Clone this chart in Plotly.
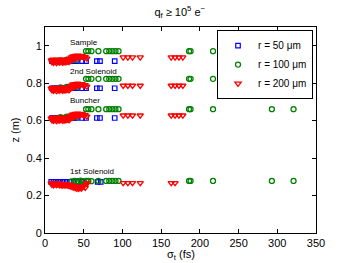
import plotly.graph_objects as go

# ---------------- data ----------------
# r = 50 um (blue squares)
sigma_r50 = [9, 12, 15, 18, 21, 25, 29, 33, 37, 41, 48, 53, 67, 71, 90,
             9, 12, 15, 18, 21, 25, 29, 33, 37, 41, 48, 53, 67, 71, 90,
             9, 12, 15, 18, 21, 25, 29, 33, 37, 41, 48, 53, 67, 71, 90,
             8, 11, 14, 17, 20, 24, 28, 32, 37, 42, 48, 68, 72]
z_r50 = [0.918] * 15 + [0.773] * 15 + [0.614] * 15 + [0.273] * 13

# r = 100 um (green circles)
sigma_r100 = [20, 24, 28, 32, 36, 40, 53, 56, 60, 69, 79, 83, 87, 91, 95, 186, 188, 217, 293, 321,
              20, 24, 28, 32, 36, 40, 53, 56, 60, 69, 79, 83, 87, 91, 95, 186, 188, 217, 293, 321,
              20, 24, 28, 32, 36, 40, 53, 56, 60, 69, 79, 83, 87, 91, 95, 186, 188, 217, 293, 321,
              34, 38, 42, 46, 50, 53, 56, 60, 69, 79, 83, 87, 91, 95, 186, 188, 217, 293, 321]
z_r100 = ([0.922, 0.918, 0.925, 0.920, 0.928, 0.924] + [0.971] * 14 +
          [0.777, 0.773, 0.780, 0.775, 0.783, 0.779] + [0.823] * 14 +
          [0.618, 0.614, 0.621, 0.616, 0.624, 0.620] + [0.661] * 14 +
          [0.276, 0.278, 0.277, 0.279, 0.277, 0.278, 0.278, 0.277] + [0.278] * 11)

# r = 200 um (red triangles)
sigma_r200 = [8, 9, 10, 11, 12, 13, 14, 15, 16, 17, 18, 19, 20, 21, 22, 23, 24, 25, 26, 27, 28, 29, 30,
              31, 32, 33, 34, 35, 36, 37, 38, 39, 40, 41, 42, 43, 44, 46, 48, 50, 52, 54,
              101, 107, 113, 123, 163, 168, 173, 178,
              8, 9, 10, 11, 12, 13, 14, 15, 16, 17, 18, 19, 20, 21, 22, 23, 24, 25, 26, 27, 28, 29, 30,
              31, 32, 33, 34, 35, 36, 37, 38, 39, 40, 41, 42, 43, 44, 46, 48, 50, 52, 54,
              101, 107, 113, 123, 163, 168, 173, 178,
              8, 9, 10, 11, 12, 13, 14, 15, 16, 17, 18, 19, 20, 21, 22, 23, 24, 25, 26, 27, 28, 29, 30,
              31, 32, 33, 34, 35, 36, 37, 38, 39, 40, 41, 42, 43, 44, 46, 48, 50, 52, 54,
              101, 107, 113, 123, 163, 168, 173, 178,
              8, 9, 10, 11, 12, 13, 14, 15, 16, 17, 18, 19, 20, 21, 22, 23, 24, 25, 26, 27, 28, 29, 30,
              31, 32, 33, 34, 35, 36, 37, 38, 39, 40, 41, 42, 43, 44, 45, 46, 47, 48, 50, 52, 53, 55,
              101, 107, 113, 123, 163, 168, 173, 178]
z_r200 = ([0.922, 0.912, 0.926, 0.910, 0.920, 0.914, 0.925, 0.908, 0.921, 0.913, 0.926, 0.911,
           0.920, 0.915, 0.925, 0.910, 0.921, 0.913, 0.926, 0.912, 0.920, 0.916, 0.924,
           0.913, 0.930, 0.920, 0.938, 0.926, 0.944, 0.930, 0.940, 0.946, 0.934, 0.942, 0.948,
           0.936, 0.944, 0.940, 0.946, 0.936, 0.940, 0.932] + [0.938] * 8 +
          [0.772, 0.762, 0.776, 0.760, 0.770, 0.764, 0.775, 0.758, 0.771, 0.763, 0.776, 0.761,
           0.770, 0.765, 0.775, 0.760, 0.771, 0.763, 0.776, 0.762, 0.770, 0.766, 0.774,
           0.763, 0.780, 0.770, 0.788, 0.776, 0.794, 0.780, 0.790, 0.796, 0.784, 0.792, 0.798,
           0.786, 0.794, 0.790, 0.796, 0.786, 0.790, 0.782] + [0.787] * 8 +
          [0.612, 0.602, 0.616, 0.600, 0.610, 0.604, 0.615, 0.598, 0.611, 0.603, 0.616, 0.601,
           0.610, 0.605, 0.615, 0.600, 0.611, 0.603, 0.616, 0.602, 0.610, 0.606, 0.614,
           0.603, 0.620, 0.610, 0.628, 0.616, 0.634, 0.620, 0.630, 0.636, 0.624, 0.632, 0.638,
           0.626, 0.634, 0.630, 0.636, 0.626, 0.630, 0.622] + [0.628] * 8 +
          [0.265, 0.258, 0.267, 0.256, 0.265, 0.259, 0.267, 0.257, 0.265, 0.259, 0.266, 0.256,
           0.262, 0.255, 0.263, 0.254, 0.262, 0.256, 0.260, 0.254, 0.261, 0.255, 0.258,
           0.252, 0.257, 0.250, 0.255, 0.246, 0.252, 0.243, 0.250, 0.240, 0.248, 0.238, 0.246,
           0.236, 0.244, 0.240, 0.248, 0.238, 0.245, 0.250, 0.242] + [0.267] * 8)

labels = ["Sample", "2nd Solenoid", "Buncher", "1st Solenoid"]
label_x = [30, 30, 30, 30]
label_z = [1.018, 0.861, 0.709, 0.328]

xticks = [0, 50, 100, 150, 200, 250, 300, 350]
yticks = [0, 0.2, 0.4, 0.6, 0.8, 1]

# ---------------- figure ----------------
fig = go.Figure()
fig.add_trace(go.Scatter(x=sigma_r50, y=z_r50, mode="markers", name="r = 50 μm",
                         marker=dict(symbol="square-open", size=4.5, color="#0000ff",
                                     line=dict(width=1.2, color="#0000ff"))))
fig.add_trace(go.Scatter(x=sigma_r100, y=z_r100, mode="markers", name="r = 100 μm",
                         marker=dict(symbol="circle-open", size=5, color="#008000",
                                     line=dict(width=1.3, color="#008000"))))
fig.add_trace(go.Scatter(x=sigma_r200, y=z_r200, mode="markers", name="r = 200 μm",
                         marker=dict(symbol="triangle-down-open", size=5.5, color="#ff0000",
                                     line=dict(width=1.3, color="#ff0000"))))

for t, xx, zz in zip(labels, label_x, label_z):
    fig.add_annotation(x=xx, y=zz, text=t, showarrow=False, xanchor="left", yanchor="middle",
                       font=dict(size=8, color="black", family="Liberation Sans, Arial, sans-serif"))

# x-axis title as annotation to keep it inside the window
fig.add_annotation(x=0.5, y=-0.105, xref="paper", yref="paper", text="σ<sub>t</sub> (fs)",
                   showarrow=False, xanchor="center", yanchor="middle",
                   font=dict(size=11, color="black"))

axis_common = dict(showline=True, linecolor="black", linewidth=1, mirror="ticks",
                   ticks="inside", ticklen=4, tickcolor="black", showgrid=False, zeroline=False,
                   tickfont=dict(size=11, color="black"))

fig.update_layout(
    width=349, height=263,
    margin=dict(l=45, r=33, t=27, b=30),
    paper_bgcolor="white", plot_bgcolor="white",
    font=dict(family="Liberation Sans, Arial, sans-serif", size=11, color="black"),
    title=dict(text="q<sub>f</sub> ≥ 10<sup>5</sup> e<sup>−</sup>", x=0.515, xanchor="center",
               y=0.955, yanchor="middle", font=dict(size=11)),
    xaxis=dict(range=[0, 350], tickvals=xticks, ticktext=[str(v) for v in xticks],
               ticklabelstandoff=0, **axis_common),
    yaxis=dict(range=[0, 1.1], tickvals=yticks, ticktext=["0", "0.2", "0.4", "0.6", "0.8", "1"],
               title=dict(text="z (m)", standoff=4, font=dict(size=11)), **axis_common),
    legend=dict(x=0.989, y=0.985, xanchor="right", yanchor="top", bgcolor="white",
                bordercolor="black", borderwidth=1, font=dict(size=10),
                itemwidth=30, tracegroupgap=0),
    showlegend=True,
)

fig.write_html("out.html", config={"displayModeBar": False},
               post_script="document.body.style.margin='0';")
